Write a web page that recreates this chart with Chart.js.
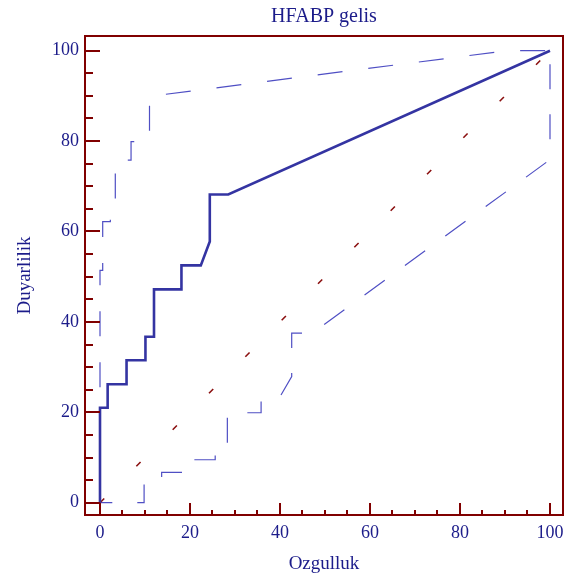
<!DOCTYPE html>
<html>
<head>
<meta charset="utf-8">
<script src="https://cdn.jsdelivr.net/npm/chart.js@4/dist/chart.umd.min.js"></script>
<style>
  html, body { margin: 0; padding: 0; background: #fff; }
  #wrap { width: 565px; height: 579px; }
</style>
</head>
<body>
<div id="wrap"><canvas id="roc" width="565" height="579"></canvas></div>
<script>
// ROC curve (100 - specificity, sensitivity)
const rocX = [0, 0, 1.7, 1.7, 5.9, 5.9, 10.1, 10.1, 12, 12, 18.1, 18.1, 22.4, 24.4, 24.4, 28.5, 100];
const rocY = [0, 21, 21, 26.2, 26.2, 31.5, 31.5, 36.7, 36.7, 47.2, 47.2, 52.5, 52.5, 57.8, 68.2, 68.2, 100];

// confidence bounds
const upperX = [0, 0, 0.6, 0.6, 2.3, 2.3, 3.4, 3.4, 6.9, 6.9, 11, 11, 90.5, 100];
const upperY = [0, 51.4, 51.4, 62.2, 62.2, 65, 65, 75.8, 75.8, 79.9, 79.9, 89.9, 100, 100];
const lowerX = [0, 9.8, 9.8, 13.7, 13.7, 20, 20, 25.6, 25.6, 28.3, 28.3, 35.8, 35.8, 39.8, 42.6, 42.6, 47.2, 100, 100];
const lowerY = [0, 0, 5, 5, 6.7, 6.7, 9.5, 9.5, 12, 12, 19.9, 19.9, 23.1, 23.1, 27.9, 37.5, 37.5, 75.9, 100];

// chance line
const diagX = [0, 100];
const diagY = [0, 100];

// axis ticks
const xMajorTicks = [0, 20, 40, 60, 80, 100];
const xMinorTicks = [5, 10, 15, 25, 30, 35, 45, 50, 55, 65, 70, 75, 85, 90, 95];
const yMajorTicks = [0, 20, 40, 60, 80, 100];
const yMinorTicks = [5, 10, 15, 25, 30, 35, 45, 50, 55, 65, 70, 75, 85, 90, 95];

const colors = {
  frame: '#800000',
  text: '#1c1c8a',
  roc: '#3434a2',
  band: '#4f4fc4',
  diag: '#8b1010'
};
const serif = 'Liberation Serif';

const pts = (xs, ys) => xs.map((v, i) => ({ x: v, y: ys[i] }));

// tick marks point into the plot area
const innerTicks = {
  id: 'innerTicks',
  afterDraw(chart) {
    const { ctx, chartArea: a, scales: { x, y } } = chart;
    ctx.save();
    ctx.strokeStyle = colors.frame;
    ctx.lineWidth = 2;
    ctx.beginPath();
    const xt = (vals, len) => vals.forEach(v => {
      const px = Math.round(x.getPixelForValue(v));
      ctx.moveTo(px, a.bottom); ctx.lineTo(px, a.bottom - len);
    });
    const yt = (vals, len) => vals.forEach(v => {
      const py = Math.round(y.getPixelForValue(v));
      ctx.moveTo(a.left, py); ctx.lineTo(a.left + len, py);
    });
    xt(xMajorTicks, 12); xt(xMinorTicks, 5);
    yt(yMajorTicks, 15); yt(yMinorTicks, 8);
    ctx.stroke();
    ctx.restore();
  }
};

// fixed axis sizes, no label overflow padding
const fixSize = (w, h) => s => {
  if (w !== null) s.width = w;
  if (h !== null) s.height = h;
  s.paddingLeft = s.paddingRight = s.paddingTop = s.paddingBottom = 0;
};

const frameBorder = { display: true, color: colors.frame, width: 2 };
const noGrid = { display: false, drawTicks: false };
const xRange = { min: -3.333, max: 102.889 };
const yRange = { min: -2.72, max: 103.25 };

new Chart(document.getElementById('roc'), {
  type: 'line',
  data: {
    datasets: [
      { data: pts(rocX, rocY), borderColor: colors.roc, borderWidth: 2.6 },
      { data: pts(diagX, diagY), borderColor: colors.diag, borderWidth: 1.6, borderDash: [6, 45.5] },
      { data: pts(upperX, upperY), borderColor: colors.band, borderWidth: 1.2, borderDash: [25, 26], borderDashOffset: 37.6 },
      { data: pts(lowerX, lowerY), borderColor: colors.band, borderWidth: 1.2, borderDash: [25, 25], borderDashOffset: 12.7 }
    ]
  },
  options: {
    responsive: false,
    animation: false,
    devicePixelRatio: 1,
    layout: { padding: 0, autoPadding: false },
    elements: { point: { radius: 0 }, line: { tension: 0, fill: false, borderCapStyle: 'butt' } },
    plugins: { legend: { display: false }, tooltip: { enabled: false } },
    scales: {
      x: {
        type: 'linear', position: 'bottom', ...xRange,
        afterBuildTicks: s => { s.ticks = xMajorTicks.map(v => ({ value: v })); },
        afterFit: fixSize(null, 64),
        grid: noGrid,
        border: frameBorder,
        ticks: { color: colors.text, padding: 7, font: { family: serif, size: 18 } },
        title: { display: true, text: 'Ozgulluk', color: colors.text, font: { family: serif, size: 19 }, padding: { top: 0, bottom: 4 } }
      },
      x2: {
        type: 'linear', position: 'top', ...xRange,
        afterFit: fixSize(null, 36),
        grid: noGrid,
        border: frameBorder,
        ticks: { display: false },
        title: { display: true, text: 'HFABP gelis', color: colors.text, font: { family: serif, size: 20 }, padding: { top: 5, bottom: 0 } }
      },
      y: {
        type: 'linear', position: 'left', ...yRange,
        afterBuildTicks: s => { s.ticks = yMajorTicks.map(v => ({ value: v })); },
        afterFit: fixSize(85, null),
        grid: noGrid,
        border: frameBorder,
        ticks: { color: colors.text, padding: 6, font: { family: serif, size: 18 } },
        title: { display: true, text: 'Duyarlilik', color: colors.text, font: { family: serif, size: 19 }, padding: { top: 14, bottom: 0 } }
      },
      y2: {
        type: 'linear', position: 'right', ...yRange,
        afterFit: fixSize(2, null),
        grid: noGrid,
        border: frameBorder,
        ticks: { display: false }
      }
    }
  },
  plugins: [innerTicks]
});
</script>
</body>
</html>
